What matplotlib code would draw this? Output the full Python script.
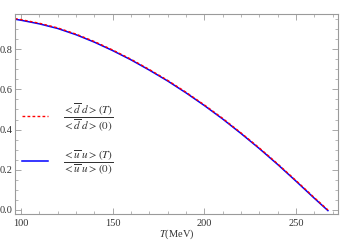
import matplotlib
matplotlib.use("Agg")
import matplotlib.pyplot as plt
from matplotlib.ticker import MultipleLocator

# ── Data ─────────────────────────────────────────────────────────────────────
T_MEV = [96.7, 100, 110, 120, 130, 140, 150, 160, 170, 180, 190,
         200, 210, 220, 230, 240, 250, 260, 267.5]
DD_RATIO = [0.952, 0.947, 0.929, 0.906, 0.875, 0.838, 0.796, 0.750, 0.699,
            0.645, 0.586, 0.523, 0.456, 0.384, 0.309, 0.230, 0.147, 0.062, 0.0]
UU_RATIO = [0.949, 0.944, 0.926, 0.903, 0.872, 0.835, 0.793, 0.747, 0.696,
            0.642, 0.583, 0.520, 0.453, 0.381, 0.306, 0.227, 0.144, 0.059, -0.003]

LBL_D = r"$\dfrac{<\overline{d}\;d>(T)}{<\overline{d}\;d>(0)}$"
LBL_U = r"$\dfrac{<\overline{u}\;u>(T)}{<\overline{u}\;u>(0)}$"

C_FRAME = "#9a9a9a"
C_TEXT = "#333333"

plt.rcParams["font.family"] = ["Liberation Serif", "DejaVu Serif"]
plt.rcParams["mathtext.fontset"] = "stix"

fig = plt.figure(figsize=(3.42, 2.40), dpi=100)
ax = fig.add_axes([15 / 342, 26 / 240, 323 / 342, 200 / 240])

ax.plot(T_MEV, UU_RATIO, color="#0000ff", lw=1.1, label=LBL_U)
ax.plot(T_MEV, DD_RATIO, color="#ff0000", lw=1.0, linestyle=(0, (2.0, 1.6)),
        label=LBL_D)

ax.set_xlim(96.7, 273)
ax.set_ylim(-0.02, 0.975)

ax.xaxis.set_major_locator(MultipleLocator(50))
ax.xaxis.set_minor_locator(MultipleLocator(10))
ax.yaxis.set_major_locator(MultipleLocator(0.2))
ax.yaxis.set_minor_locator(MultipleLocator(0.05))
ax.yaxis.set_major_formatter(lambda v, p: f"{v:.1f}")

ax.tick_params(which="both", direction="in", top=True, right=True,
               color=C_FRAME, labelcolor=C_TEXT, labelsize=7.5, pad=2)
ax.tick_params(axis="x", pad=3.5)
ax.tick_params(which="major", length=4, width=0.6)
ax.tick_params(which="minor", length=2, width=0.5)
for s in ax.spines.values():
    s.set_color(C_FRAME)
    s.set_linewidth(0.8)

ax.set_xlabel(r"$T$(MeV)", fontsize=7.5, color=C_TEXT, labelpad=0)

handles, labels = ax.get_legend_handles_labels()
leg = ax.legend(handles[::-1], labels[::-1], loc="center left",
                bbox_to_anchor=(0.0, 0.375), frameon=False, fontsize=8,
                handlelength=2.4, handletextpad=1.3, labelspacing=1.25,
                borderaxespad=0.2)
for t in leg.get_texts():
    t.set_color(C_TEXT)

fig.savefig("out.png", dpi=100)
